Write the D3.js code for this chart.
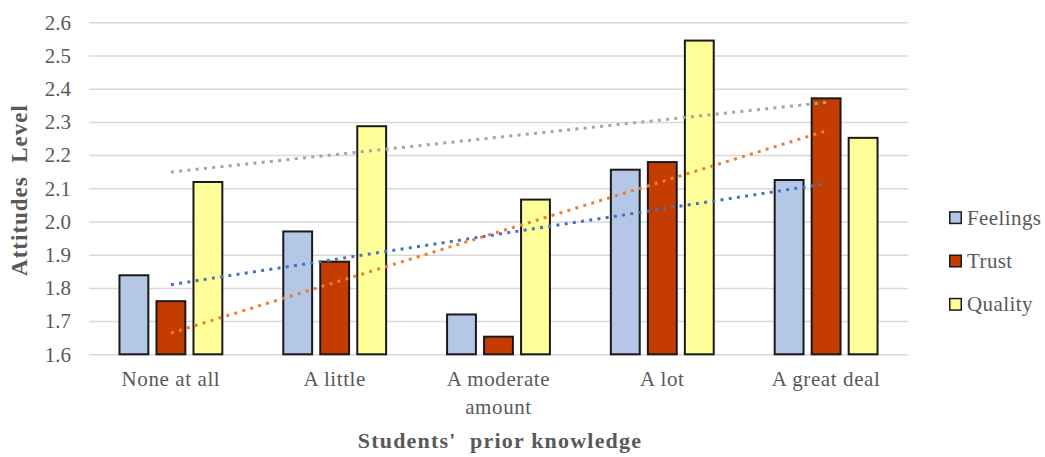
<!DOCTYPE html>
<html>
<head>
<meta charset="utf-8">
<script src="https://cdn.jsdelivr.net/npm/d3@7/dist/d3.min.js"></script>
<style>
  html, body { margin: 0; padding: 0; background: #fff; }
  svg { display: block; }
  text { font-family: "Liberation Serif", "Times New Roman", serif; fill: #595959; }
</style>
</head>
<body>
<svg id="chart" width="1045" height="457"></svg>
<script>
// Attitude levels by prior knowledge
const categories = [["None at all"], ["A little"], ["A moderate", "amount"], ["A lot"], ["A great deal"]];
const seriesNames = ["Feelings", "Trust", "Quality"];
const feelings = [1.838, 1.970, 1.720, 2.156, 2.125];
const trust    = [1.760, 1.879, 1.653, 2.179, 2.371];
const quality  = [2.119, 2.287, 2.066, 2.545, 2.252];
const yTicks = [1.6, 1.7, 1.8, 1.9, 2.0, 2.1, 2.2, 2.3, 2.4, 2.5, 2.6];

const seriesValues = [feelings, trust, quality];
const fills = ["#B4C7E7", "#C43C00", "#FFFF99"];
const trendColors = ["#4472C4", "#ED7D31", "#A5A5A5"];
const serif = '"Liberation Serif", "Times New Roman", serif';

const svg = d3.select("#chart");
const plot = { left: 89, right: 908, top: 22.3, bottom: 354.3 };

const x = d3.scaleBand()
  .domain(d3.range(categories.length))
  .range([plot.left, plot.right])
  .padding(0);

const xInner = d3.scaleBand()
  .domain(d3.range(seriesNames.length))
  .range([-55.5, 55.5])
  .paddingInner(0.22)
  .paddingOuter(0.11);

const y = d3.scaleLinear()
  .domain([1.6, 2.6])
  .range([plot.bottom, plot.top]);

// Gridlines and y tick labels
const yAxis = d3.axisLeft(y)
  .tickValues(yTicks)
  .tickFormat(d3.format(".1f"))
  .tickSize(-(plot.right - plot.left))
  .tickPadding(18);

const gy = svg.append("g")
  .attr("transform", `translate(${plot.left},0)`)
  .call(yAxis)
  .attr("font-family", serif)
  .attr("font-size", 21);
gy.select(".domain").remove();
gy.selectAll(".tick line").attr("stroke", "#D9D9D9").attr("stroke-width", 1.5);
gy.selectAll(".tick text")
  .attr("fill", "#595959")
  .attr("font-family", serif)
  .attr("font-size", 21);

// Bars
const groups = svg.append("g").selectAll("g")
  .data(categories)
  .join("g")
  .attr("transform", (d, i) => `translate(${x(i) + x.bandwidth() / 2},0)`);

groups.selectAll("rect")
  .data((d, i) => seriesValues.map((vals, s) => ({ s, v: vals[i] })))
  .join("rect")
  .attr("x", d => xInner(d.s))
  .attr("width", xInner.bandwidth())
  .attr("y", d => y(d.v))
  .attr("height", d => y(1.6) - y(d.v))
  .attr("fill", d => fills[d.s])
  .attr("stroke", "#1a1a1a")
  .attr("stroke-width", 2);

// Linear trendlines (least squares over category index)
function linearFit(vals) {
  const n = vals.length;
  const xs = d3.range(1, n + 1);
  const mx = d3.mean(xs), my = d3.mean(vals);
  const slope = d3.sum(xs, (xi, k) => (xi - mx) * (vals[k] - my)) / d3.sum(xs, xi => (xi - mx) ** 2);
  const icpt = my - slope * mx;
  return xs.map(xi => [xi - 1, icpt + slope * xi]);
}

const trendLine = d3.line()
  .x(d => x(d[0]) + x.bandwidth() / 2)
  .y(d => y(d[1]));

svg.append("g").selectAll("path")
  .data(seriesValues.map((vals, s) => ({ s, pts: linearFit(vals) })))
  .join("path")
  .attr("d", d => trendLine([d.pts[0], d.pts[d.pts.length - 1]]))
  .attr("fill", "none")
  .attr("stroke", d => trendColors[d.s])
  .attr("stroke-width", 3)
  .attr("stroke-dasharray", "3 5.3");

// Category labels
const xLabels = svg.append("g").selectAll("text")
  .data(categories)
  .join("text")
  .attr("text-anchor", "middle")
  .attr("font-family", serif)
  .attr("font-size", 21)
  .attr("letter-spacing", 0.6)
  .attr("transform", (d, i) => `translate(${x(i) + x.bandwidth() / 2},386)`);
xLabels.selectAll("tspan")
  .data(d => d)
  .join("tspan")
  .attr("x", 0)
  .attr("dy", (d, k) => k === 0 ? 0 : 28)
  .text(d => d);

// Axis titles
svg.append("text")
  .attr("x", 500)
  .attr("y", 448)
  .attr("text-anchor", "middle")
  .attr("font-family", serif)
  .attr("font-size", 22)
  .attr("font-weight", "bold")
  .attr("letter-spacing", 1.2)
  .attr("xml:space", "preserve")
  .text("Students'  prior knowledge");

svg.append("text")
  .attr("transform", "translate(27,190) rotate(-90)")
  .attr("text-anchor", "middle")
  .attr("font-family", serif)
  .attr("font-size", 23)
  .attr("font-weight", "bold")
  .attr("letter-spacing", 1)
  .attr("xml:space", "preserve")
  .text("Attitudes  Level");

// Legend
const legend = svg.append("g").selectAll("g")
  .data(seriesNames)
  .join("g")
  .attr("transform", (d, i) => `translate(949,${217.7 + i * 43.3})`);
legend.append("rect")
  .attr("x", 0.75).attr("y", -5.75)
  .attr("width", 11.5).attr("height", 11.5)
  .attr("fill", (d, i) => fills[i])
  .attr("stroke", "#1a1a1a")
  .attr("stroke-width", 1.5);
legend.append("text")
  .attr("x", 18)
  .attr("y", 7)
  .attr("font-family", serif)
  .attr("font-size", 21)
  .attr("letter-spacing", 0.4)
  .text(d => d);
</script>
</body>
</html>
